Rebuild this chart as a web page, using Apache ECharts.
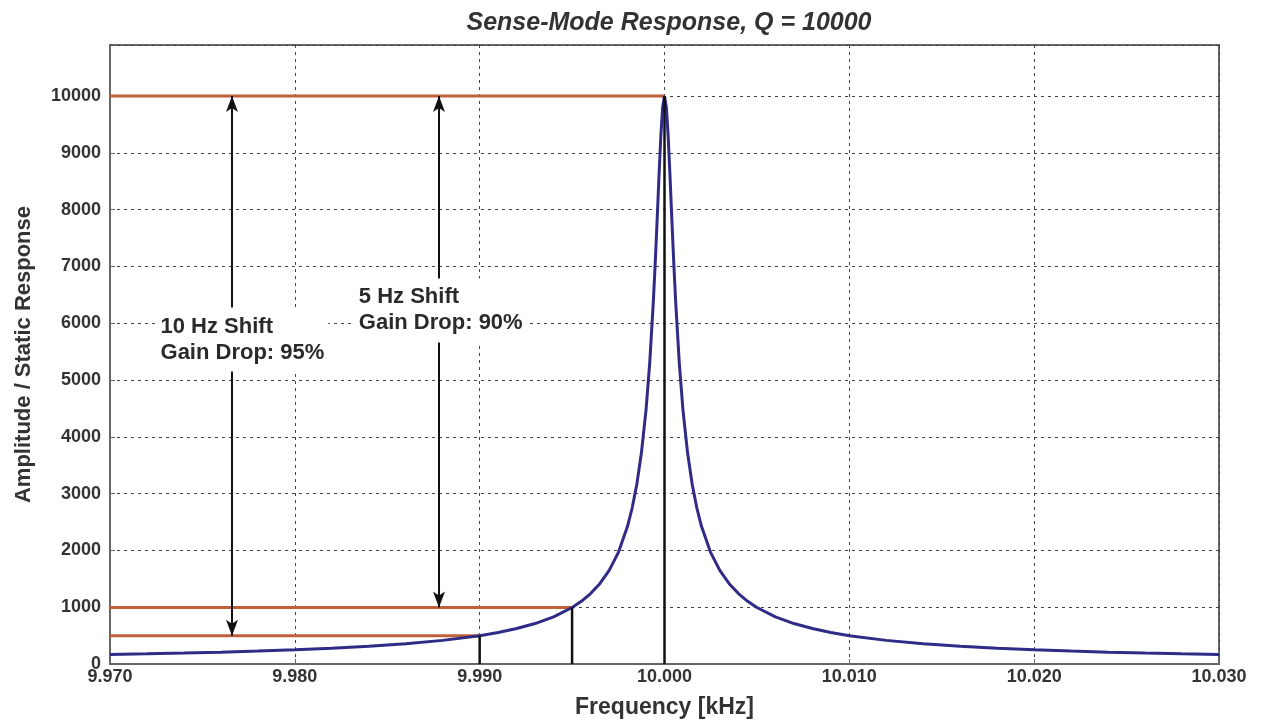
<!DOCTYPE html>
<html>
<head>
<meta charset="utf-8">
<script src="https://cdn.jsdelivr.net/npm/echarts@6/dist/echarts.min.js"></script>
<style>
  html, body { margin: 0; padding: 0; background: #fff; }
  #chart { width: 1269px; height: 724px; }
</style>
</head>
<body>
<div id="chart"></div>
<script>
// 频率 [kHz] 与 幅值
var freqs = [9.970, 9.972, 9.974, 9.976, 9.978, 9.980, 9.982, 9.984, 9.986, 9.988,
  9.990, 9.991, 9.992, 9.993, 9.994, 9.995, 9.9955, 9.996, 9.9965, 9.997, 9.9975,
  9.998, 9.99825, 9.9985, 9.99875, 9.999, 9.9992, 9.9994, 9.9995, 9.9996, 9.9997,
  9.9998, 9.9999, 10.000, 10.0001, 10.0002, 10.0003, 10.0004, 10.0005, 10.0006,
  10.0008, 10.001, 10.00125, 10.0015, 10.00175, 10.002, 10.0025, 10.003, 10.0035,
  10.004, 10.0045, 10.005, 10.006, 10.007, 10.008, 10.009, 10.010, 10.012, 10.014,
  10.016, 10.018, 10.020, 10.022, 10.024, 10.026, 10.028, 10.030];
var amps = [167, 179, 192, 208, 227, 250, 278, 312, 357, 416,
  499, 555, 624, 712, 830, 995, 1104, 1240, 1414, 1644, 1961,
  2425, 2747, 3162, 3714, 4472, 5300, 6402, 7071, 7809, 8575,
  9285, 9806, 10000, 9806, 9285, 8575, 7809, 7071, 6402,
  5300, 4472, 3714, 3162, 2747, 2425, 1961, 1644, 1414,
  1240, 1104, 995, 830, 712, 624, 555, 499, 416, 357,
  312, 278, 250, 227, 208, 192, 179, 167];

// 参考水平线（橙色）及竖线（黑色）
var refFreqs = [10.000, 9.995, 9.990];
var refLevels = [10000, 995, 499];
// 双向箭头
var arrowFreqs = [9.9766, 9.9878];
var arrowTops = [10000, 10000];
var arrowBottoms = [499, 995];
// 标注文字
var noteTexts = ['10 Hz Shift\nGain Drop: 95%', '5 Hz Shift\nGain Drop: 90%'];
var noteFreqs = [9.97249, 9.98322];
var noteLevels = [5714, 6226];

var font = "'Liberation Sans', Arial, sans-serif";
var myChart = echarts.init(document.getElementById('chart'));

var series = [];
//橙色水平线
for (var i = 0; i < refFreqs.length; i++) {
    series.push({
        type: 'line',
        data: [[9.970, refLevels[i]], [refFreqs[i], refLevels[i]]],
        symbol: 'none',
        lineStyle: { color: '#c0603a', width: 3 },
        z: 2
    });
}
//响应曲线
series.push({
    type: 'line',
    data: freqs.map(function (f, i) { return [f, amps[i]]; }),
    symbol: 'none',
    lineStyle: { color: '#2f2b86', width: 3 },
    z: 3
});
//黑色竖线
for (var j = 0; j < refFreqs.length; j++) {
    series.push({
        type: 'line',
        data: [[refFreqs[j], 0], [refFreqs[j], refLevels[j]]],
        symbol: 'none',
        lineStyle: { color: '#111', width: 2.5 },
        z: 4
    });
}
//箭头
for (var k = 0; k < arrowFreqs.length; k++) {
    series.push({
        type: 'line',
        data: [],
        markLine: {
            silent: true,
            symbol: ['arrow', 'arrow'],
            symbolSize: [9, 16],
            label: { show: false },
            lineStyle: { color: '#111', width: 2, type: 'solid' },
            data: [[{ coord: [arrowFreqs[k], arrowBottoms[k]] }, { coord: [arrowFreqs[k], arrowTops[k]] }]]
        },
        z: 5
    });
}
//文字（scatter默认透明度0.8，这里改为1）
series.push({
    type: 'scatter',
    symbolSize: 1,
    itemStyle: { color: '#fff', opacity: 1 },
    data: noteFreqs.map(function (f, i) { return { value: [f, noteLevels[i]], text: noteTexts[i] }; }),
    label: {
        show: true,
        position: 'right',
        distance: 0,
        align: 'left',
        formatter: function (p) { return p.data.text; },
        fontFamily: font,
        fontSize: 22,
        fontWeight: 'bold',
        lineHeight: 26,
        color: '#2a2a2a',
        backgroundColor: '#fff',
        padding: [6, 4, 6, 4]
    },
    z: 10
});

var gridLine = { show: true, lineStyle: { color: '#444', width: 1, type: [3, 4] } };
var option = {
    animation: false,
    backgroundColor: '#fff',
    title: {
        text: 'Sense-Mode Response, Q = 10000',
        left: 664,
        textAlign: 'center',
        top: 6,
        textStyle: { fontFamily: font, fontSize: 25, fontWeight: 'bold', fontStyle: 'italic', color: '#333' }
    },
    grid: { left: 110, right: 50, top: 45, bottom: 60, show: true, borderColor: '#666', borderWidth: 2 },
    xAxis: {
        type: 'value',
        min: 9.97,
        max: 10.03,
        interval: 0.01,
        name: 'Frequency [kHz]',
        nameLocation: 'middle',
        nameGap: 32,
        nameTextStyle: { fontFamily: font, fontSize: 23, fontWeight: 'bold', color: '#333' },
        axisLine: { lineStyle: { color: '#666', width: 2 } },
        axisTick: { inside: true, length: 5, lineStyle: { color: '#666' } },
        axisLabel: {
            formatter: function (v) { return v.toFixed(3); },
            fontFamily: font, fontSize: 18, fontWeight: 'bold', color: '#333', margin: 4
        },
        splitLine: gridLine
    },
    yAxis: {
        type: 'value',
        min: 0,
        max: 10900,
        interval: 1000,
        name: 'Amplitude / Static Response',
        nameLocation: 'middle',
        nameGap: 75,
        nameTextStyle: { fontFamily: font, fontSize: 22, fontWeight: 'bold', color: '#333' },
        axisLine: { show: true, lineStyle: { color: '#666', width: 2 } },
        axisTick: { show: true, inside: true, length: 5, lineStyle: { color: '#666' } },
        axisLabel: {
            showMaxLabel: false,
            formatter: function (v) { return String(v); },
            fontFamily: font, fontSize: 18, fontWeight: 'bold', color: '#333', margin: 9
        },
        splitLine: gridLine
    },
    series: series
};
myChart.setOption(option);
</script>
</body>
</html>
